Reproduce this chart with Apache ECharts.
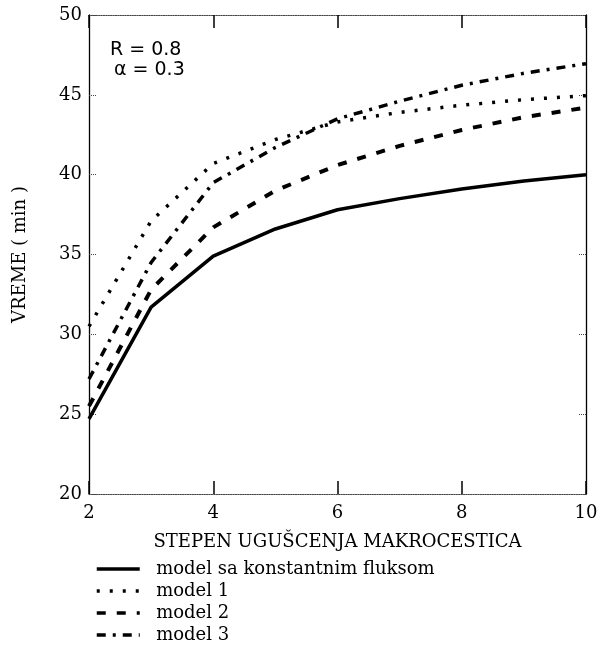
<!DOCTYPE html>
<html lang="sr">
<head>
    <meta charset="UTF-8">
    <title>Vreme - stepen ugušcenja makrocestica</title>
    <script src="https://cdn.jsdelivr.net/npm/echarts@6/dist/echarts.min.js"></script>
    <style>
        html, body { margin: 0; padding: 0; background: #fff; }
    </style>
</head>
<body>
<div id="chart" style="width: 604px; height:652px;"></div>
<script>
    // stepen ugušcenja (x)
    var stepen = [2, 3, 4, 5, 6, 7, 8, 9, 10];
    // vreme (min) po modelu
    var konstantniFluks = [24.7, 31.7, 34.9, 36.6, 37.8, 38.5, 39.1, 39.6, 40.0];
    var model1 = [30.5, 37.1, 40.7, 42.2, 43.3, 43.9, 44.35, 44.7, 44.95];
    var model2 = [25.5, 32.8, 36.7, 39.0, 40.6, 41.8, 42.8, 43.6, 44.2];
    var model3 = [27.2, 34.5, 39.5, 41.7, 43.5, 44.6, 45.6, 46.35, 46.95];
    var imena = ['model sa konstantnim fluksom', 'model 1', 'model 2', 'model 3'];

    function pairs(ys) {
        return stepen.map(function (x, i) { return [x, ys[i]]; });
    }

    var serif = 'DejaVu Serif';
    var chart = echarts.init(document.getElementById('chart'));

    var xBase = {
        type: 'value', min: 2, max: 10, interval: 2,
        splitLine: { show: false },
        axisLine: { show: true, lineStyle: { color: '#444', width: 1.2, type: 'dotted' } },
        axisTick: { show: true, inside: true, length: 13, lineStyle: { color: '#000', width: 1.5 } }
    };
    var yBase = {
        type: 'value', min: 20, max: 50, interval: 5,
        splitLine: { show: false },
        axisLine: { show: true, onZero: false, lineStyle: { color: '#000', width: 1.3 } },
        axisTick: { show: true, inside: true, length: 7, lineStyle: { color: '#444', width: 1, type: 'dotted' } }
    };

    var option = {
        animation: false,
        backgroundColor: '#fff',
        grid: { left: 89, right: 18, top: 15, bottom: 158 },
        xAxis: [
            Object.assign({}, xBase, {
                position: 'bottom',
                name: 'STEPEN UGUŠCENJA MAKROCESTICA',
                nameLocation: 'middle',
                nameGap: 39,
                nameTextStyle: { fontFamily: serif, fontSize: 18, color: '#000' },
                axisLabel: { fontFamily: serif, fontSize: 18, color: '#000', margin: 10 }
            }),
            Object.assign({}, xBase, { position: 'top', axisLabel: { show: false } })
        ],
        yAxis: [
            Object.assign({}, yBase, {
                position: 'left',
                name: 'VREME ( min )',
                nameLocation: 'middle',
                nameRotate: 90,
                nameGap: 60,
                nameTextStyle: { fontFamily: serif, fontSize: 18, color: '#000' },
                axisLabel: { fontFamily: serif, fontSize: 18, color: '#000', margin: 7 }
            }),
            Object.assign({}, yBase, { position: 'right', axisLabel: { show: false } })
        ],
        legend: {
            orient: 'vertical',
            left: 90,
            top: 555,
            itemWidth: 43,
            itemHeight: 14,
            itemGap: 4,
            lineStyle: { width: 3.5 },
            itemStyle: { opacity: 0 },
            textStyle: { fontFamily: serif, fontSize: 18, color: '#000' },
            formatter: '  {name}',
            data: imena
        },
        graphic: [
            { type: 'text', left: 110, top: 41, style: { text: 'R = 0.8', font: '19px "DejaVu Sans"', fill: '#000' } },
            { type: 'text', left: 114, top: 61, style: { text: 'α = 0.3', font: '19px "DejaVu Sans"', fill: '#000' } }
        ],
        series: [
            {
                name: imena[0], type: 'line', data: pairs(konstantniFluks),
                symbol: 'none', color: '#000',
                lineStyle: { color: '#000', width: 3.5, type: 'solid' }
            },
            {
                name: imena[1], type: 'line', data: pairs(model1),
                symbol: 'none', color: '#000',
                lineStyle: { color: '#000', width: 3.5, type: [3, 10] }
            },
            {
                name: imena[2], type: 'line', data: pairs(model2),
                symbol: 'none', color: '#000',
                lineStyle: { color: '#000', width: 4, type: [9, 11] }
            },
            {
                name: imena[3], type: 'line', data: pairs(model3),
                symbol: 'none', color: '#000',
                lineStyle: { color: '#000', width: 3.5, type: [9, 7, 3, 7] }
            }
        ]
    };
    chart.setOption(option);
</script>
</body>
</html>
